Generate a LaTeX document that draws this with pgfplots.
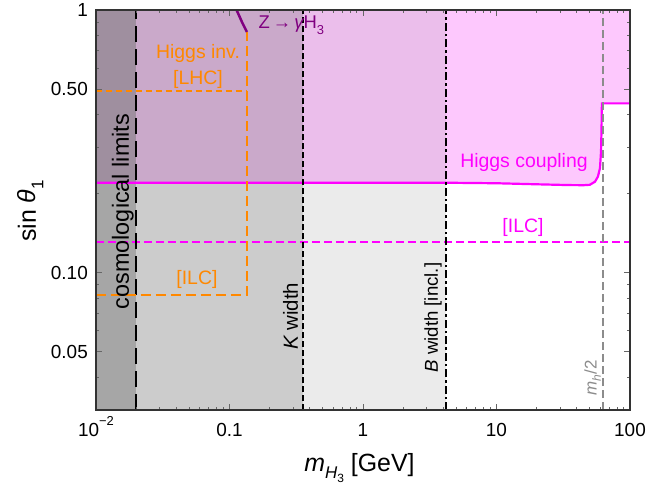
\documentclass[border=0pt]{standalone}
\usepackage{pgfplots}
\pgfplotsset{compat=1.18}
\usepackage{fontspec}
\setmainfont{Liberation Sans}
\newcommand\fs[1]{\fontsize{#1}{#1}\selectfont}
\definecolor{pinkc}{HTML}{FDC8FD}
\definecolor{dgray}{HTML}{A6A6A6}
\definecolor{mgray}{HTML}{CCCCCC}
\definecolor{lgray}{HTML}{EBEBEB}
\definecolor{dmauve}{HTML}{9F8F9F}
\definecolor{mmauve}{HTML}{CAA9CA}
\definecolor{lmauve}{HTML}{EBBEEB}
\definecolor{orng}{RGB}{255,136,0}
\definecolor{purp}{HTML}{800080}
\definecolor{mag}{HTML}{FF00FF}
\definecolor{mhgray}{HTML}{8C8C8C}
\begin{document}
\begin{tikzpicture}
\useasboundingbox (-96bp,-74bp) rectangle (551bp,410bp);
\begin{axis}[at={(0,0)}, anchor=south west, scale only axis,
  width=534bp, height=400bp,
  xmode=log, ymode=log, xmin=0.01, xmax=100, ymin=0.03, ymax=1,
  axis on top,
  axis line style={black!80, line width=1.2bp},
  xtick={0.01,0.1,1,10,100},
  xticklabels={10\raisebox{0.55em}{\fs{13}\char"2212 2},0.1,1,10,100},
  minor xtick={0.02,0.03,0.04,0.05,0.06,0.07,0.08,0.09,0.2,0.3,0.4,0.5,0.6,0.7,0.8,0.9,2,3,4,5,6,7,8,9,20,30,40,50,60,70,80,90},
  ytick={0.05,0.1,0.5,1},
  yticklabels={0.05,0.10,0.50,1},
  minor ytick={0.03,0.04,0.06,0.07,0.08,0.09,0.2,0.3,0.4,0.6,0.7,0.8,0.9},
  xtick pos=both, ytick pos=both,
  tick align=inside,
  major tick length=6bp, minor tick length=3.5bp,
  every tick/.style={black!60, line width=0.9bp},
  tick label style={font=\fs{19}},
  xticklabel style={anchor=base, yshift=-26bp},
  yticklabel style={anchor=east, inner sep=0pt, xshift=-8bp},
]
% pink region above Higgs coupling curve
\addplot[fill=pinkc, draw=none] coordinates {
 (0.01,0.220) (4.15,0.220) (10,0.219) (20,0.217) (35,0.2155) (45,0.2153) (50,0.216)
 (54.7,0.222) (57.5,0.232) (59.6,0.250) (60.7,0.29) (61.2,0.35) (61.6,0.441) (100,0.441)
 (100,1) (0.01,1)} -- cycle;
% gray bands above curve
\addplot[fill=dmauve, draw=none] coordinates {(0.01,0.22)(0.02,0.22)(0.02,1)(0.01,1)} -- cycle;
\addplot[fill=mmauve, draw=none] coordinates {(0.02,0.22)(0.354,0.22)(0.354,1)(0.02,1)} -- cycle;
\addplot[fill=lmauve, draw=none] coordinates {(0.354,0.22)(4.15,0.22)(4.15,1)(0.354,1)} -- cycle;
% gray bands below curve
\addplot[fill=dgray, draw=none] coordinates {(0.01,0.03)(0.02,0.03)(0.02,0.22)(0.01,0.22)} -- cycle;
\addplot[fill=mgray, draw=none] coordinates {(0.02,0.03)(0.354,0.03)(0.354,0.22)(0.02,0.22)} -- cycle;
\addplot[fill=lgray, draw=none] coordinates {(0.354,0.03)(4.15,0.03)(4.15,0.22)(0.354,0.22)} -- cycle;
% Higgs coupling curve
\addplot[mag, line width=2.2bp] coordinates {
 (0.01,0.220) (4.15,0.220) (10,0.219) (20,0.217) (35,0.2155) (45,0.2153) (50,0.216)
 (54.7,0.222) (57.5,0.232) (59.6,0.250) (60.7,0.29) (61.2,0.35) (61.6,0.441) (100,0.441)};
% ILC magenta dashed
\addplot[mag, line width=2.2bp, dash pattern=on 8bp off 4bp] coordinates {(0.01,0.1305)(100,0.1305)};
% vertical lines
\addplot[black, line width=2.4bp, dash pattern=on 16bp off 7bp] coordinates {(0.02,0.03)(0.02,1)};
\addplot[black, line width=2bp, dash pattern=on 6bp off 3bp] coordinates {(0.354,0.03)(0.354,1)};
\addplot[black, line width=2bp, dash pattern=on 8bp off 3bp on 2.5bp off 3bp] coordinates {(4.15,0.03)(4.15,1)};
\addplot[mhgray, line width=2.2bp, dash pattern=on 8bp off 4bp] coordinates {(62.5,0.03)(62.5,1)};
% orange lines
\addplot[orng, line width=2.2bp, dash pattern=on 6bp off 4bp] coordinates {(0.01,0.49)(0.135,0.49)};
\addplot[orng, line width=2.2bp, dash pattern=on 10bp off 5bp] coordinates {(0.01,0.0825)(0.135,0.0825)(0.135,0.825)};
% Z -> gamma H3
\addplot[purp, line width=2.5bp] coordinates {(0.113,1)(0.124,0.90)(0.135,0.825)};
% labels
\node[purp, anchor=west, font=\fs{18.5}] at (rel axis cs:0.2978,0.9625) {Z\,→\,{\itshape γ}H\raisebox{-0.3em}{\fs{13}3}};
\node[orng, font=\fs{19.5}] at (rel axis cs:0.191,0.8925) {Higgs inv.};
\node[orng, font=\fs{19.5}] at (rel axis cs:0.191,0.8275) {[LHC]};
\node[orng, font=\fs{19.5}] at (rel axis cs:0.189,0.3275) {[ILC]};
\node[black, rotate=90, anchor=base, font=\fs{23.5}] at (rel axis cs:0.0618,0.496) {cosmological limits};
\node[black, rotate=90, anchor=base, font=\fs{20.5}] at (rel axis cs:0.378,0.234) {{\itshape K} width};
\node[black, rotate=90, anchor=base, font=\fs{18.7}] at (rel axis cs:0.6404,0.231) {{\itshape B} width [incl.]};
\node[mhgray, rotate=90, anchor=base, font=\fs{17}] at (rel axis cs:0.9376,0.08) {{\itshape m\raisebox{-0.25em}{\fs{12}h}}/2};
\node[mag, font=\fs{19.5}] at (rel axis cs:0.8015,0.62) {Higgs coupling};
\node[mag, font=\fs{19.5}] at (rel axis cs:0.7996,0.4575) {[ILC]};
\end{axis}
\node[anchor=base, font=\fs{25}] at (263.5bp,-61bp) {{\itshape m}\raisebox{-0.3em}{\fs{17}\itshape H\raisebox{-0.25em}{\fs{12}\upshape 3}}\ [GeV]};
\node[anchor=base, rotate=90, font=\fs{25}] at (-60bp,199bp) {sin {\itshape θ}\raisebox{-0.3em}{\fs{17}1}};
\end{tikzpicture}
\end{document}
